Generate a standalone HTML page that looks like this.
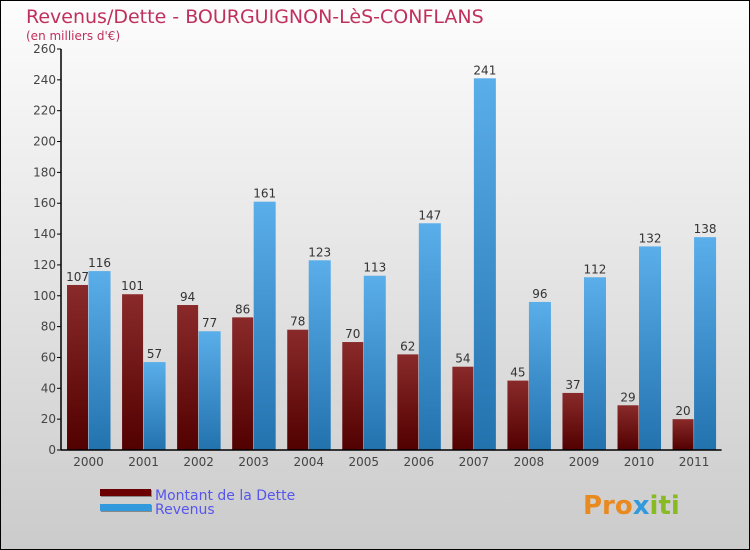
<!DOCTYPE html>
<html><head><meta charset="utf-8"><style>
body{margin:0;width:750px;height:550px;overflow:hidden}
svg{display:block;font-family:"DejaVu Sans","Liberation Sans",sans-serif}
</style></head><body>
<svg width="750" height="550" viewBox="0 0 750 550">
<defs>
<linearGradient id="bg" x1="0" y1="0" x2="0" y2="1"><stop offset="0" stop-color="#fdfdfd"/><stop offset="1" stop-color="#cbcbcb"/></linearGradient>
<linearGradient id="gd" x1="0" y1="0" x2="0" y2="1"><stop offset="0" stop-color="#8a2a2a"/><stop offset="1" stop-color="#520000"/></linearGradient>
<linearGradient id="gr" x1="0" y1="0" x2="0" y2="1"><stop offset="0" stop-color="#5aaeea"/><stop offset="1" stop-color="#2272ae"/></linearGradient>
</defs>
<rect x="0.5" y="0.5" width="749" height="549" fill="url(#bg)" stroke="#000"/>
<text x="26" y="23" font-size="19" fill="#c0305e">Revenus/Dette - BOURGUIGNON-LèS-CONFLANS</text>
<text x="26" y="40" font-size="12" fill="#c0305e">(en milliers d'€)</text>
<g id="plot"></g>
<g>
<rect x="101" y="490" width="51" height="7" fill="#888"/><rect x="100" y="489" width="51" height="7" fill="#6a0000"/>
<rect x="101" y="505" width="51" height="7" fill="#888"/><rect x="100" y="504" width="51" height="7" fill="#3399dd"/>
<text x="155" y="500" font-size="14" fill="#5555ee">Montant de la Dette</text>
<text x="155" y="514" font-size="14" fill="#5555ee">Revenus</text>
</g>
<text x="583" y="514" font-size="26" font-weight="bold" fill="#e88a20">Pro<tspan fill="#3399dd">x</tspan><tspan fill="#88bb22">iti</tspan></text>
</svg>
<script>
const categories=["2000","2001","2002","2003","2004","2005","2006","2007","2008","2009","2010","2011"];
const dette=[107,101,94,86,78,70,62,54,45,37,29,20];
const revenus=[116,57,77,161,123,113,147,241,96,112,132,138];
const yTicks=[0,20,40,60,80,100,120,140,160,180,200,220,240,260];
const NS="http://www.w3.org/2000/svg";
const g=document.getElementById('plot');
const x0=61,band=55.05,yBase=450,yTop=49,yMax=260;
const y=v=>yBase-(v/yMax)*(yBase-yTop);
const xc=i=>x0+band*(i+0.5);
function el(t,a,txt){const e=document.createElementNS(NS,t);for(const k in a)e.setAttribute(k,a[k]);if(txt!==undefined)e.textContent=txt;g.appendChild(e);return e;}
yTicks.forEach(t=>{
 const l=el('line',{x1:x0-4,x2:x0,y1:y(t),y2:y(t),stroke:'#000'});
 
 
 const tx=el('text',{x:x0-5,y:y(t)+4,'font-size':12,'text-anchor':'end',fill:'#444'},t);
 
 
});
categories.forEach((c,i)=>{
 const cx=xc(i);
 const b1=el('rect',{x:cx-21.5,y:y(dette[i]),width:21,height:yBase-y(dette[i]),fill:'url(#gd)'});
 
 
 const b2=el('rect',{x:cx,y:y(revenus[i]),width:22,height:yBase-y(revenus[i]),fill:'url(#gr)'});
 
 
 const t1=el('text',{x:cx-11,y:y(dette[i])-4,'font-size':12,'text-anchor':'middle',fill:'#333'},dette[i]);
 
 
 const t2=el('text',{x:cx+11,y:y(revenus[i])-4,'font-size':12,'text-anchor':'middle',fill:'#333'},revenus[i]);
 
 
 const tl=el('text',{x:cx,y:466,'font-size':12,'text-anchor':'middle',fill:'#444'},c);
 
 
});
const ya=el('line',{x1:x0,x2:x0,y1:yTop,y2:yBase,stroke:'#000','stroke-width':1.5});


const xa=el('line',{x1:x0,x2:x0+band*12,y1:yBase,y2:yBase,stroke:'#000','stroke-width':1.5});


</script>
</body></html>
